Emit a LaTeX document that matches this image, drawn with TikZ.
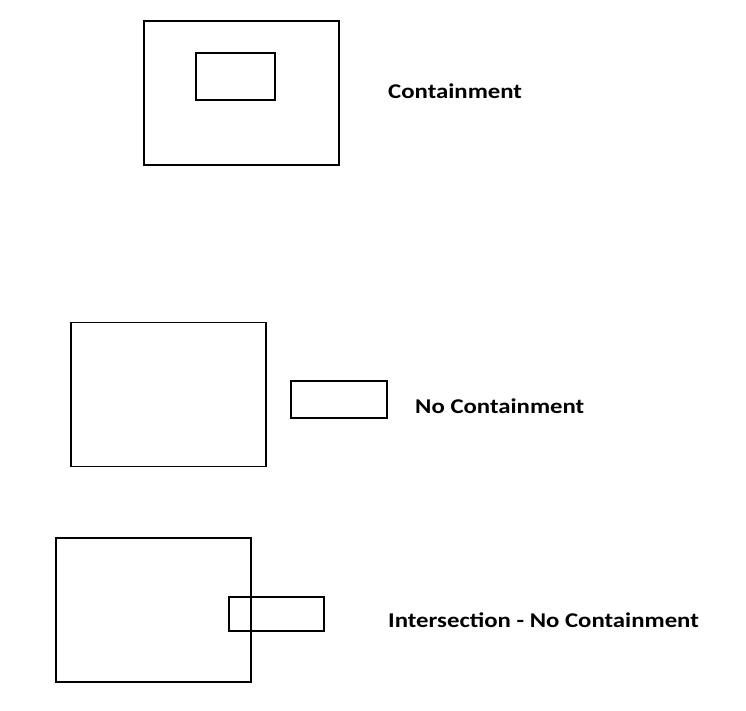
\documentclass[tikz,border=0pt]{standalone}
\usepackage{fontspec}
\setmainfont{Carlito}
\usetikzlibrary{positioning}

\begin{document}
\begin{tikzpicture}[x=1pt,y=-1pt,
  box/.style = {draw, line width=1.6pt, inner sep=0pt},
  bigbox/.style = {box, minimum width=195pt, minimum height=144pt},
  label/.style = {anchor=base west, inner sep=0pt, xscale=1.18, transform shape,
    font=\fontsize{21}{24}\selectfont\bfseries}
]
\useasboundingbox (0,0) rectangle (746,710);
% Containment
\node[bigbox] (outerA) at (241.5,93) {};
\node[box, minimum width=79pt, minimum height=47pt] (innerA) at (235.5,76.5) {};
\node[label] (textA) at (388,98) {Containment};
% No containment
\node[bigbox] (outerB) at (168.5,394.5) {};
\node[box, minimum width=96pt, minimum height=37pt] (innerB) at (339,399.5) {};
\node[label] (textB) at (415,413) {No Containment};
% Intersection - no containment
\node[bigbox] (outerC) at (153.5,610) {};
\node[box, minimum width=95pt, minimum height=34pt] (innerC) at (276.5,614) {};
\node[label] (textC) at (388,627) {Intersection - No Containment};
\end{tikzpicture}
\end{document}
